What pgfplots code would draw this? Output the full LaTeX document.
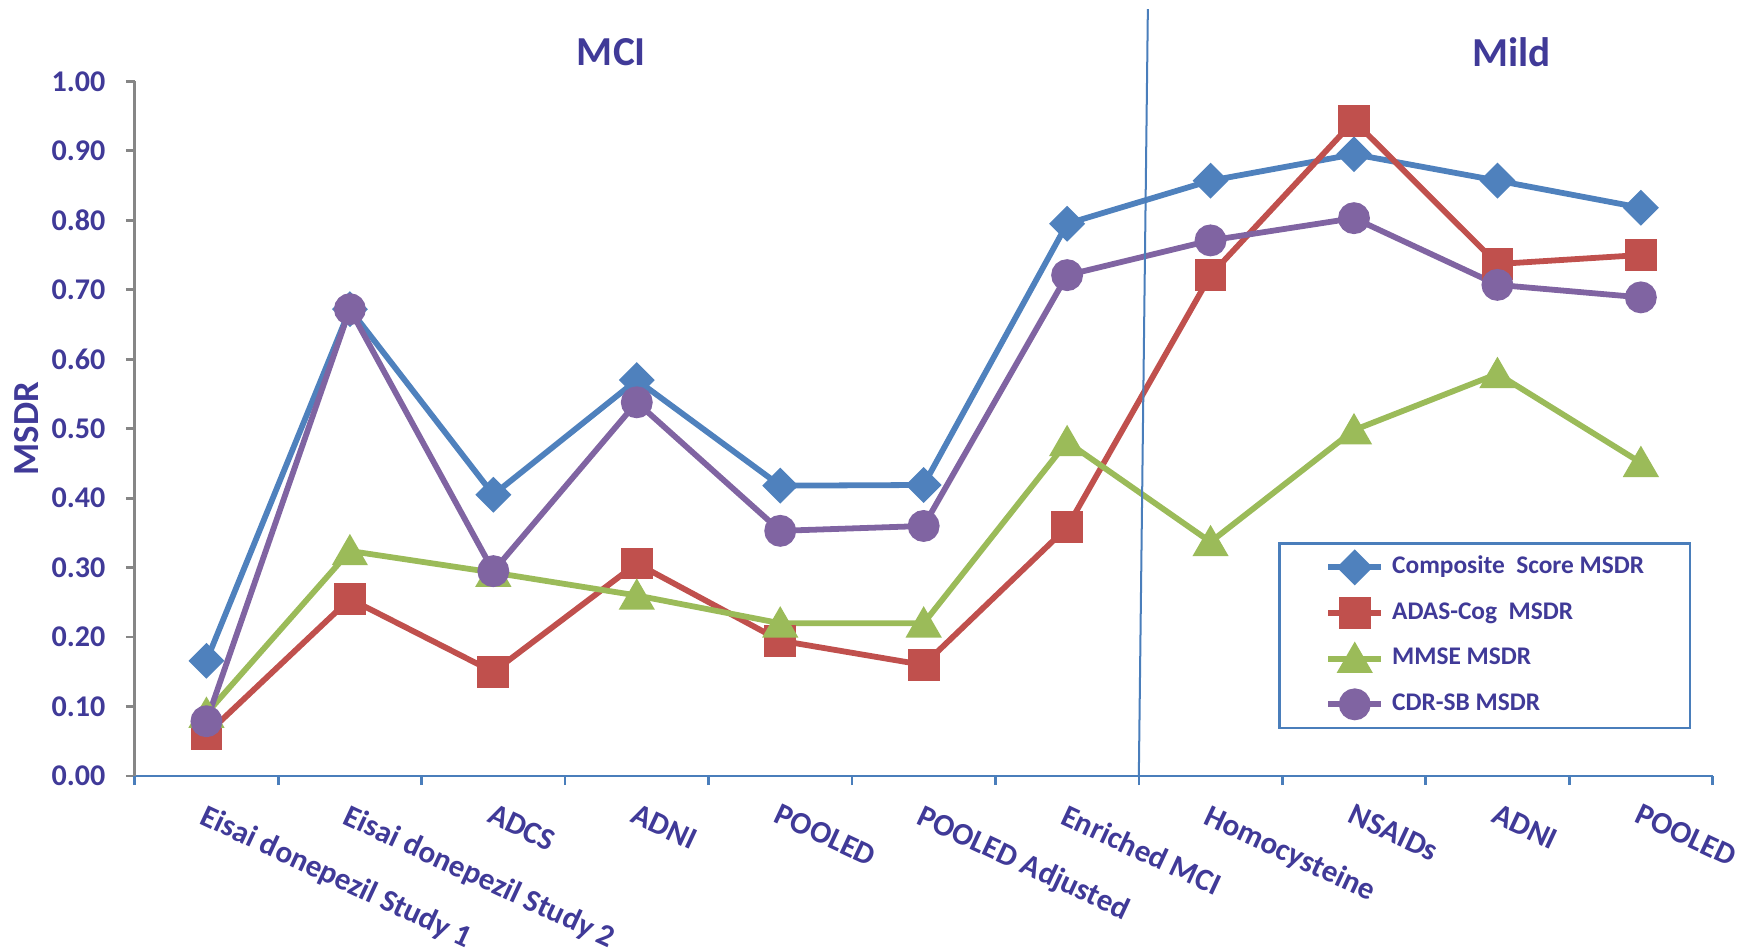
\documentclass[border=0pt]{standalone}
\usepackage{fontspec}
\setmainfont{Carlito}
\usepackage{pgfplots}
\pgfplotsset{compat=1.18}
\definecolor{cBlue}{HTML}{4F81BD}
\definecolor{cRed}{HTML}{C0504D}
\definecolor{cGreen}{HTML}{9BBB59}
\definecolor{cPurple}{HTML}{8064A2}
\definecolor{axBlue}{HTML}{4A7EBB}
\definecolor{axGray}{HTML}{868686}
\definecolor{txt}{HTML}{403A98}
\begin{document}
\begin{tikzpicture}
\useasboundingbox (-60.5bp,-78.1bp) rectangle (723.5bp,348.5bp);
\begin{axis}[
  at={(0,0)}, anchor=south west,
  scale only axis, width=708.5bp, height=312bp,
  xmin=-0.5, xmax=10.5, ymin=0, ymax=1,
  clip=false,
  axis x line=bottom, axis y line=left,
  axis line style={-},
  x axis line style={draw=axBlue, line width=1.2bp},
  y axis line style={draw=axGray, line width=1.2bp},
  tick align=outside,
  major tick length=4bp,
  xtick={0,1,2,3,4,5,6,7,8,9,10},
  xticklabels={Eisai donepezil Study 1, Eisai donepezil Study 2, ADCS, ADNI, POOLED, POOLED Adjusted, Enriched MCI, Homocysteine, NSAIDs, ADNI, POOLED},
  xtick style={draw=none},
  xticklabel style={xshift=0.5bp, yshift=-8bp, rotate=-25, anchor=north west, inner sep=0pt,
    font=\fontsize{14bp}{16bp}\selectfont\bfseries, text=txt},
  extra x ticks={-0.5,0.5,1.5,2.5,3.5,4.5,5.5,6.5,7.5,8.5,9.5,10.5},
  extra x tick labels={,,,,,,,,,,,,},
  extra x tick style={xtick style={draw=axBlue, line width=1.2bp}},
  ytick={0,0.1,0.2,0.3,0.4,0.5,0.6,0.7,0.8,0.9,1.0},
  ytick style={draw=axGray, line width=1.2bp},
  yticklabel style={/pgf/number format/.cd, fixed, fixed zerofill, precision=2, assume math mode=true, /tikz/.cd,
    font=\fontsize{13.5bp}{16bp}\selectfont\bfseries, text=txt, inner sep=0pt, xshift=-9bp},
  ylabel={MSDR},
  every axis y label/.style={at={(axis description cs:0,0.5)}, xshift=-48.5bp, rotate=90, anchor=center,
    font=\fontsize{16.5bp}{20bp}\selectfont\bfseries, text=txt},
  legend cell align=left,
  legend image code/.code={\draw[mark repeat=2,mark phase=2,#1] plot coordinates {(0bp,0bp) (12bp,0bp) (24bp,0bp)};},
  legend style={at={(rel axis cs:0.7248,0.3365)}, anchor=north west, draw=axBlue, line width=1bp,
    inner xsep=20.5bp, inner ysep=3.5bp, row sep=6bp, column sep=3.5bp,
    font=\fontsize{11.4bp}{13bp}\selectfont\bfseries, text=txt,
    nodes={inner xsep=0pt, inner ysep=2bp, text height=8bp, text depth=2.5bp}},
]
\addplot[cBlue, line width=2.6bp, mark=square*, mark size=4.4bp, mark options={rotate=45, draw=none, fill=cBlue}]
  coordinates {(0,0.166) (1,0.672) (2,0.405) (3,0.570) (4,0.418) (5,0.419) (6,0.795) (7,0.857) (8,0.895) (9,0.857) (10,0.818)};
\addlegendentry{Composite\ \ Score MSDR}
\addplot[cRed, line width=2.6bp, mark=square*, mark size=5.85bp, mark options={draw=none, fill=cRed}]
  coordinates {(0,0.060) (1,0.255) (2,0.150) (3,0.306) (4,0.195) (5,0.160) (6,0.358) (7,0.721) (8,0.943) (9,0.737) (10,0.750)};
\addlegendentry{ADAS-Cog\ \ MSDR}
\addplot[cGreen, line width=2.6bp, mark=triangle*, mark size=6.8bp, mark options={draw=none, fill=cGreen, yshift=-1.7bp}]
  coordinates {(0,0.090) (1,0.324) (2,0.293) (3,0.260) (4,0.220) (5,0.220) (6,0.481) (7,0.337) (8,0.498) (9,0.579) (10,0.451)};
\addlegendentry{MMSE MSDR}
\addplot[cPurple, line width=2.6bp, mark=*, mark size=5.85bp, mark options={draw=none, fill=cPurple}]
  coordinates {(0,0.079) (1,0.672) (2,0.295) (3,0.538) (4,0.353) (5,0.360) (6,0.721) (7,0.771) (8,0.803) (9,0.707) (10,0.689)};
\addlegendentry{CDR-SB MSDR}
\draw[axBlue, line width=0.9bp] (axis cs:6.5,0) -- (axis cs:6.563,1.104);
\node[font=\fontsize{18.5bp}{22bp}\selectfont\bfseries, text=txt] at (axis cs:2.823,1.042) {MCI};
\node[font=\fontsize{18.5bp}{22bp}\selectfont\bfseries, text=txt] at (axis cs:9.096,1.042) {Mild};
\end{axis}
\end{tikzpicture}
\end{document}
